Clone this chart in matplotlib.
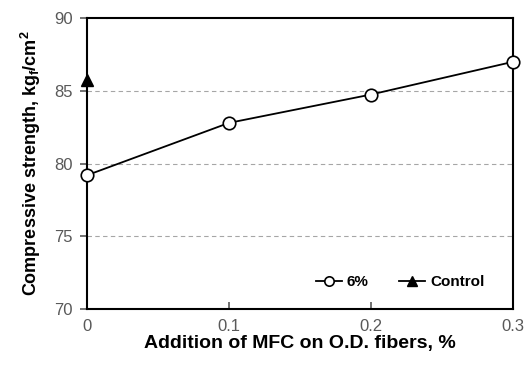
import matplotlib
matplotlib.use("Agg")
import matplotlib.pyplot as plt

plt.rcParams["font.family"] = ["Liberation Sans", "DejaVu Sans"]
plt.rcParams["mathtext.fontset"] = "custom"
plt.rcParams["mathtext.rm"] = "Liberation Sans"
plt.rcParams["mathtext.bf"] = "Liberation Sans:bold"

# Datos
mfc_addition = [0, 0.1, 0.2, 0.3]
strength_6pct = [79.2, 82.8, 84.75, 87.0]
control_x = [0]
control_y = [85.75]

x_ticks = [0, 0.1, 0.2, 0.3]
x_tick_labels = ["0", "0.1", "0.2", "0.3"]
y_ticks = [70, 75, 80, 85, 90]

COLOR_TICK = "#595959"
COLOR_GRID = "#a6a6a6"

fig = plt.figure(figsize=(5.24, 3.71), dpi=100)
ax = fig.add_axes([0.166, 0.167, 0.813, 0.784])

for y in [75, 80, 85]:
    ax.axhline(y, color=COLOR_GRID, linewidth=0.8, linestyle=(0, (4, 3)), zorder=0)

ax.plot(mfc_addition, strength_6pct, color="black", linewidth=1.3, marker="o",
        markersize=9, markerfacecolor="white", markeredgecolor="black",
        markeredgewidth=1.2, label="6%", zorder=3, clip_on=False)
ax.plot(control_x, control_y, color="black", linewidth=1.3, marker="^",
        markersize=9, markerfacecolor="black", label="Control", zorder=3, clip_on=False)

ax.set_xlim(0, 0.3)
ax.set_ylim(70, 90)
ax.set_xticks(x_ticks)
ax.set_xticklabels(x_tick_labels)
ax.set_yticks(y_ticks)

for spine in ax.spines.values():
    spine.set_linewidth(1.5)

ax.tick_params(axis="x", direction="in", length=5, width=1.2, colors=COLOR_TICK,
               labelsize=12, pad=7)
ax.tick_params(axis="y", direction="out", length=5, width=1.2, colors=COLOR_TICK,
               labelsize=12, pad=5)
for t in ax.get_xticklines() + ax.get_yticklines():
    t.set_color("black")

ax.set_xlabel("Addition of MFC on O.D. fibers, %", fontsize=14, fontweight="bold", labelpad=1)
ax.set_ylabel(r"Compressive strength, kg$_\mathbf{f}$/cm$^\mathbf{2}$", fontsize=13,
              fontweight="bold", labelpad=8)

ax.legend(loc="lower right", ncol=2, frameon=False,
          prop={"weight": "bold", "size": 11}, handlelength=1.7, handletextpad=0.3,
          columnspacing=2.0, markerscale=0.75, bbox_to_anchor=(0.965, 0.02))

fig.savefig("out.png", dpi=100)
